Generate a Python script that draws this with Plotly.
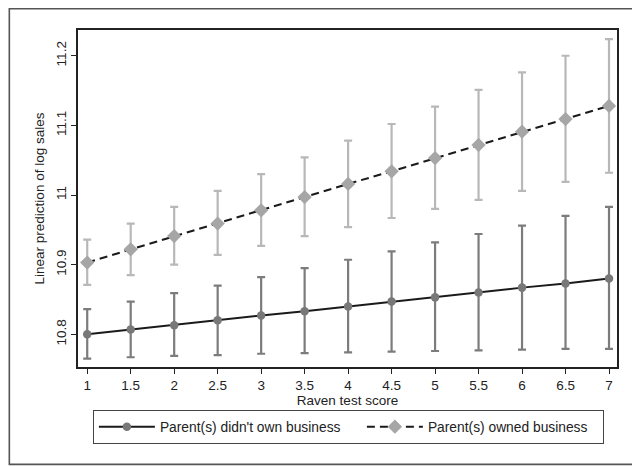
import plotly.graph_objects as go

# ---- data ----
raven = [1, 1.5, 2, 2.5, 3, 3.5, 4, 4.5, 5, 5.5, 6, 6.5, 7]

no_biz_pred = [10.800, 10.807, 10.813, 10.820, 10.827, 10.833, 10.840,
               10.847, 10.853, 10.860, 10.867, 10.873, 10.880]
no_biz_hi = [10.836, 10.847, 10.859, 10.870, 10.882, 10.895, 10.907,
             10.919, 10.932, 10.944, 10.956, 10.970, 10.983]
no_biz_lo = [10.765, 10.767, 10.769, 10.770, 10.772, 10.773, 10.774,
             10.775, 10.776, 10.777, 10.778, 10.779, 10.779]

biz_pred = [10.903, 10.922, 10.941, 10.959, 10.978, 10.997, 11.016,
            11.034, 11.053, 11.072, 11.091, 11.109, 11.128]
biz_hi = [10.936, 10.959, 10.983, 11.006, 11.030, 11.054, 11.078,
          11.102, 11.127, 11.151, 11.176, 11.200, 11.224]
biz_lo = [10.871, 10.885, 10.900, 10.914, 10.927, 10.941, 10.954,
          10.967, 10.980, 10.993, 11.006, 11.019, 11.032]

x_ticks = [1, 1.5, 2, 2.5, 3, 3.5, 4, 4.5, 5, 5.5, 6, 6.5, 7]
x_tick_text = ["1", "1.5", "2", "2.5", "3", "3.5", "4", "4.5", "5", "5.5", "6", "6.5", "7"]
y_ticks = [10.8, 10.9, 11.0, 11.1, 11.2]
y_tick_text = ["10.8", "10.9", "11", "11.1", "11.2"]

series_names = ["Parent(s) didn't own business", "Parent(s) owned business"]

FONT = "Liberation Sans, Arial, sans-serif"

# page body adds an 8px offset; margins compensate for it
OFF = 8
PLOT_W, PLOT_H = 539.2, 336.7
L, T = 77.5 - OFF, 30 - OFF
R = 640 - L - PLOT_W
B = 466 - T - PLOT_H

fig = go.Figure()

fig.add_trace(go.Scatter(
    x=raven, y=no_biz_pred, name=series_names[0], mode="lines+markers",
    line=dict(color="#1a1a1a", width=2),
    marker=dict(symbol="circle", size=8.5, color="#787878"),
    error_y=dict(type="data", symmetric=False,
                 array=[h - p for h, p in zip(no_biz_hi, no_biz_pred)],
                 arrayminus=[p - l for p, l in zip(no_biz_pred, no_biz_lo)],
                 color="#7c7c7c", thickness=2.2, width=4),
    legendwidth=197,
))

fig.add_trace(go.Scatter(
    x=raven, y=biz_pred, name=series_names[1], mode="lines+markers",
    line=dict(color="#1a1a1a", width=2, dash="8px,5px"),
    marker=dict(symbol="diamond", size=11, color="#a6a6a6"),
    error_y=dict(type="data", symmetric=False,
                 array=[h - p for h, p in zip(biz_hi, biz_pred)],
                 arrayminus=[p - l for p, l in zip(biz_pred, biz_lo)],
                 color="#b8b8b8", thickness=2.2, width=4),
    legendwidth=169,
))

fig.update_layout(
    width=640, height=466,
    margin=dict(l=L, r=R, t=T, b=B, autoexpand=False),
    paper_bgcolor="white", plot_bgcolor="white",
    font=dict(family=FONT, size=13.5, color="#222222"),
    showlegend=True,
    legend=dict(
        orientation="h", xref="container", yref="container",
        x=(92.7 - OFF) / 640, xanchor="left", y=1 - (410 - OFF) / 466, yanchor="top",
        bordercolor="#444444", borderwidth=1.2, bgcolor="white",
        font=dict(family=FONT, size=13.8, color="#222222"),
        itemwidth=56, traceorder="normal",
    ),
    xaxis=dict(
        range=[0.894, 7.092], tickmode="array", tickvals=x_ticks, ticktext=x_tick_text,
        showgrid=False, zeroline=False, showline=True, mirror=True, automargin=False,
        linecolor="#222222", linewidth=1.8, ticks="outside", ticklen=5,
        tickwidth=1.2, tickcolor="#222222",
        title=dict(text="Raven test score", standoff=0, font=dict(size=13.5)),
        tickfont=dict(size=13.5),
    ),
    yaxis=dict(
        range=[10.753, 11.237], tickmode="array", tickvals=y_ticks, ticktext=y_tick_text,
        tickangle=-90,
        showgrid=False, zeroline=False, showline=True, mirror=True, automargin=False,
        linecolor="#222222", linewidth=1.8, ticks="outside", ticklen=5,
        tickwidth=1.2, tickcolor="#222222",
        title=dict(text="Linear prediction of log sales", standoff=6, font=dict(size=13.5)),
        tickfont=dict(size=13.5),
    ),
    shapes=[dict(
        type="rect", xref="paper", yref="paper",
        x0=(0.8 - L) / PLOT_W, x1=1.5,
        y0=-(464 - OFF - T - PLOT_H) / PLOT_H, y1=(T + PLOT_H - 0.8) / PLOT_H,
        line=dict(color="#555555", width=1.6), fillcolor="rgba(0,0,0,0)", layer="below",
    )],
)

fig.write_html("out.html")
